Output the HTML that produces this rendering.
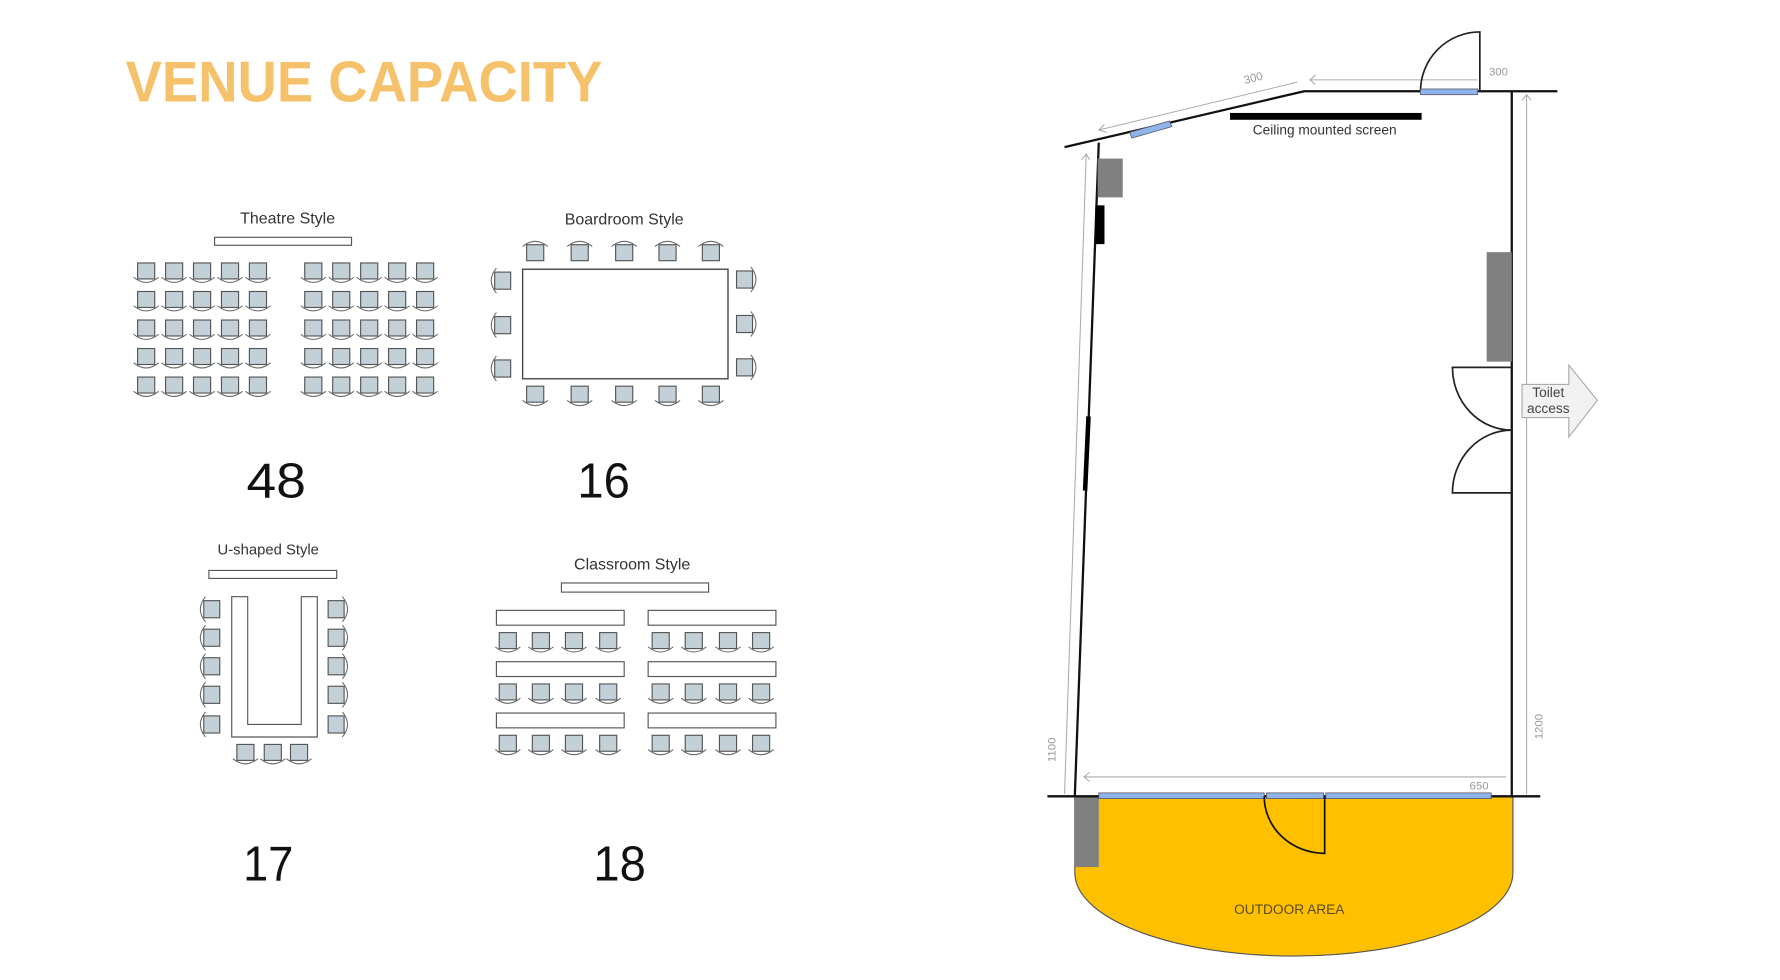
<!DOCTYPE html>
<html><head><meta charset="utf-8"><style>
html,body{margin:0;padding:0;background:#fff;}
svg{display:block;}
</style></head><body>
<svg width="1780" height="980" viewBox="0 0 1560 859" xmlns="http://www.w3.org/2000/svg" font-family="Liberation Sans, sans-serif">
<defs>
<g id="ch">
<rect x="-7.5" y="-7.5" width="15" height="14" fill="#c3d0d8" stroke="#555" stroke-width="1"/>
<path d="M-11 5 Q0 14 11 5" fill="none" stroke="#666" stroke-width="0.9"/>
</g>
</defs>
<rect width="1560" height="859" fill="#fff"/>
<text x="110" y="89" font-size="50" font-weight="bold" fill="#F6C16B" textLength="418" lengthAdjust="spacingAndGlyphs">VENUE CAPACITY</text>

<!-- Theatre -->
<text x="252" y="196" font-size="14" fill="#333" text-anchor="middle">Theatre Style</text>
<rect x="188" y="208" width="120" height="7" fill="#fff" stroke="#555"/>
<g>
<use href="#ch" x="128" y="238"/><use href="#ch" x="152.5" y="238"/><use href="#ch" x="177" y="238"/><use href="#ch" x="201.5" y="238"/><use href="#ch" x="226" y="238"/>
<use href="#ch" x="274.5" y="238"/><use href="#ch" x="299" y="238"/><use href="#ch" x="323.5" y="238"/><use href="#ch" x="348" y="238"/><use href="#ch" x="372.5" y="238"/>
<use href="#ch" x="128" y="263"/><use href="#ch" x="152.5" y="263"/><use href="#ch" x="177" y="263"/><use href="#ch" x="201.5" y="263"/><use href="#ch" x="226" y="263"/>
<use href="#ch" x="274.5" y="263"/><use href="#ch" x="299" y="263"/><use href="#ch" x="323.5" y="263"/><use href="#ch" x="348" y="263"/><use href="#ch" x="372.5" y="263"/>
<use href="#ch" x="128" y="288"/><use href="#ch" x="152.5" y="288"/><use href="#ch" x="177" y="288"/><use href="#ch" x="201.5" y="288"/><use href="#ch" x="226" y="288"/>
<use href="#ch" x="274.5" y="288"/><use href="#ch" x="299" y="288"/><use href="#ch" x="323.5" y="288"/><use href="#ch" x="348" y="288"/><use href="#ch" x="372.5" y="288"/>
<use href="#ch" x="128" y="313"/><use href="#ch" x="152.5" y="313"/><use href="#ch" x="177" y="313"/><use href="#ch" x="201.5" y="313"/><use href="#ch" x="226" y="313"/>
<use href="#ch" x="274.5" y="313"/><use href="#ch" x="299" y="313"/><use href="#ch" x="323.5" y="313"/><use href="#ch" x="348" y="313"/><use href="#ch" x="372.5" y="313"/>
<use href="#ch" x="128" y="338"/><use href="#ch" x="152.5" y="338"/><use href="#ch" x="177" y="338"/><use href="#ch" x="201.5" y="338"/><use href="#ch" x="226" y="338"/>
<use href="#ch" x="274.5" y="338"/><use href="#ch" x="299" y="338"/><use href="#ch" x="323.5" y="338"/><use href="#ch" x="348" y="338"/><use href="#ch" x="372.5" y="338"/>
</g>
<text x="242" y="436" font-size="43" fill="#111" text-anchor="middle" textLength="52" lengthAdjust="spacingAndGlyphs">48</text>

<!-- Boardroom -->
<text x="547" y="197" font-size="14" fill="#333" text-anchor="middle">Boardroom Style</text>
<rect x="458" y="236" width="180" height="96" fill="#fff" stroke="#444" stroke-width="1.2"/>
<g>
<use href="#ch" transform="translate(469,221) rotate(180)"/><use href="#ch" transform="translate(508,221) rotate(180)"/><use href="#ch" transform="translate(547,221) rotate(180)"/><use href="#ch" transform="translate(585,221) rotate(180)"/><use href="#ch" transform="translate(623,221) rotate(180)"/>
<use href="#ch" x="469" y="346"/><use href="#ch" x="508" y="346"/><use href="#ch" x="547" y="346"/><use href="#ch" x="585" y="346"/><use href="#ch" x="623" y="346"/>
<use href="#ch" transform="translate(440,246) rotate(90)"/><use href="#ch" transform="translate(440,285) rotate(90)"/><use href="#ch" transform="translate(440,323) rotate(90)"/>
<use href="#ch" transform="translate(653,245) rotate(-90)"/><use href="#ch" transform="translate(653,284) rotate(-90)"/><use href="#ch" transform="translate(653,322) rotate(-90)"/>
</g>
<text x="529" y="436" font-size="43" fill="#111" text-anchor="middle" textLength="46" lengthAdjust="spacingAndGlyphs">16</text>

<!-- U-shaped -->
<text x="235" y="486" font-size="13" fill="#333" text-anchor="middle">U-shaped Style</text>
<rect x="183" y="500" width="112" height="7" fill="#fff" stroke="#555"/>
<path d="M203 523 H217 V635 H264 V523 H278 V646 H203 Z" fill="#fff" stroke="#555"/>
<g>
<use href="#ch" transform="translate(185,534) rotate(90)"/><use href="#ch" transform="translate(185,559) rotate(90)"/><use href="#ch" transform="translate(185,584) rotate(90)"/><use href="#ch" transform="translate(185,609) rotate(90)"/><use href="#ch" transform="translate(185,635) rotate(90)"/>
<use href="#ch" transform="translate(295,534) rotate(-90)"/><use href="#ch" transform="translate(295,559) rotate(-90)"/><use href="#ch" transform="translate(295,584) rotate(-90)"/><use href="#ch" transform="translate(295,609) rotate(-90)"/><use href="#ch" transform="translate(295,635) rotate(-90)"/>
<use href="#ch" x="215" y="660"/><use href="#ch" x="239" y="660"/><use href="#ch" x="262" y="660"/>
</g>
<text x="235" y="772" font-size="43" fill="#111" text-anchor="middle" textLength="44" lengthAdjust="spacingAndGlyphs">17</text>

<!-- Classroom -->
<text x="554" y="499" font-size="14" fill="#333" text-anchor="middle">Classroom Style</text>
<rect x="492" y="511" width="129" height="8" fill="#fff" stroke="#555"/>
<g fill="#fff" stroke="#555">
<rect x="435" y="535" width="112" height="13"/><rect x="568" y="535" width="112" height="13"/>
<rect x="435" y="580" width="112" height="13"/><rect x="568" y="580" width="112" height="13"/>
<rect x="435" y="625" width="112" height="13"/><rect x="568" y="625" width="112" height="13"/>
</g>
<g>
<use href="#ch" x="445" y="562"/><use href="#ch" x="474" y="562"/><use href="#ch" x="503" y="562"/><use href="#ch" x="533" y="562"/>
<use href="#ch" x="579" y="562"/><use href="#ch" x="608" y="562"/><use href="#ch" x="638" y="562"/><use href="#ch" x="667" y="562"/>
<use href="#ch" x="445" y="607"/><use href="#ch" x="474" y="607"/><use href="#ch" x="503" y="607"/><use href="#ch" x="533" y="607"/>
<use href="#ch" x="579" y="607"/><use href="#ch" x="608" y="607"/><use href="#ch" x="638" y="607"/><use href="#ch" x="667" y="607"/>
<use href="#ch" x="445" y="652"/><use href="#ch" x="474" y="652"/><use href="#ch" x="503" y="652"/><use href="#ch" x="533" y="652"/>
<use href="#ch" x="579" y="652"/><use href="#ch" x="608" y="652"/><use href="#ch" x="638" y="652"/><use href="#ch" x="667" y="652"/>
</g>
<text x="543" y="772" font-size="43" fill="#111" text-anchor="middle" textLength="46" lengthAdjust="spacingAndGlyphs">18</text>

<!-- Floor plan -->
<g transform="translate(-5,0)">
<path d="M947 698 L1331 698 L1331 765 A192 73 0 0 1 947 765 Z" fill="#FFC000" stroke="#555" stroke-width="1"/>
<rect x="947" y="698" width="21" height="62" fill="#808080"/>
<text x="1135" y="801" font-size="12" fill="#5a4a20" text-anchor="middle">OUTDOOR AREA</text>

<g stroke="#aaa" stroke-width="0.9" fill="none">
<line x1="1153" y1="70" x2="1300" y2="70"/><path d="M1158 66 L1153 70 L1158 74"/>
<line x1="968" y1="114" x2="1142" y2="72"/><path d="M973 109 L968 114 L975 116"/>
<line x1="957" y1="135" x2="938" y2="696"/><path d="M953 140 L957 135 L960 140"/>
<line x1="1343" y1="83" x2="1343" y2="696"/><path d="M1339 88 L1343 83 L1347 88"/>
<line x1="955" y1="681" x2="1325" y2="681"/><path d="M960 677 L955 681 L960 685"/>
</g>
<g fill="#999" font-size="10">
<text x="1310" y="66">300</text>
<text x="1095" y="72" transform="rotate(-14 1102 68)">300</text>
<text x="1293" y="692">650</text>
<text x="0" y="0" transform="translate(930,668) rotate(-90)">1100</text>
<text x="0" y="0" transform="translate(1357,648) rotate(-90)">1200</text>
</g>

<g stroke="#111" stroke-width="2" fill="none">
<path d="M938 129 L1148 80 L1370 80"/>
<line x1="968" y1="125" x2="947" y2="698"/>
<line x1="1330" y1="80" x2="1330" y2="698"/>
<line x1="923" y1="698" x2="1355" y2="698"/>
</g>
<path d="M1250 80 A52 52 0 0 1 1302 28 L1302 80" fill="none" stroke="#222" stroke-width="1.5"/>
<rect x="1250" y="78" width="50" height="5" fill="#8fb4ea" stroke="#556" stroke-width="0.7"/>
<polygon points="995,116 1030,106 1032,111 997,121" fill="#8fb4ea" stroke="#556" stroke-width="0.7"/>
<rect x="1083" y="99" width="168" height="6" fill="#000"/>
<text x="1166" y="118" font-size="12" fill="#333" text-anchor="middle">Ceiling mounted screen</text>
<rect x="967" y="139" width="22" height="34" fill="#808080"/>
<rect x="965" y="180" width="8" height="34" fill="#000"/>
<line x1="959" y1="365" x2="956" y2="430" stroke="#000" stroke-width="4"/>
<rect x="1308" y="221" width="22" height="96" fill="#808080"/>
<path d="M1330 322 L1278 322 A52 55 0 0 0 1330 377" fill="none" stroke="#222" stroke-width="1.5"/>
<path d="M1330 432 L1278 432 A52 55 0 0 1 1330 377" fill="none" stroke="#222" stroke-width="1.5"/>
<polygon points="1339,337 1380,337 1380,320 1405,351 1380,383 1380,366 1339,366" fill="#f2f2f2" stroke="#aaa"/>
<text x="1362" y="348" font-size="12" fill="#444" text-anchor="middle">Toilet</text>
<text x="1362" y="362" font-size="12" fill="#444" text-anchor="middle">access</text>
<g fill="#8fb4ea" stroke="#556" stroke-width="0.7">
<rect x="968" y="695" width="145" height="5"/>
<rect x="1115" y="695" width="50" height="5"/>
<rect x="1167" y="695" width="145" height="5"/>
</g>
<path d="M1113 698 A53 50 0 0 0 1166 748 L1166 698" fill="none" stroke="#111" stroke-width="1.5"/>
</g>
</svg>
</body></html>
